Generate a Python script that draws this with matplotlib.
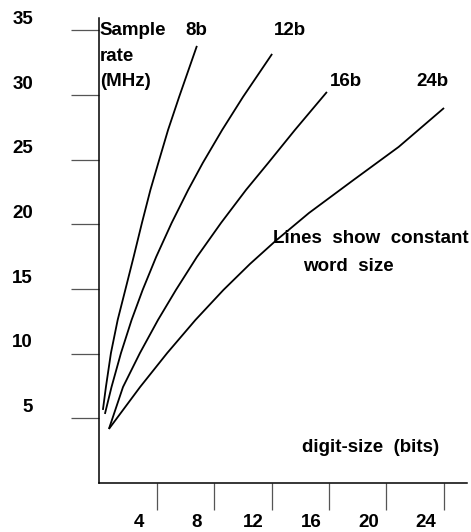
import matplotlib
matplotlib.use("Agg")
import matplotlib.pyplot as plt
from matplotlib.transforms import offset_copy

plt.rcParams['font.family'] = ['Liberation Sans', 'DejaVu Sans']
plt.rcParams['font.weight'] = 'bold'

# sample rate (MHz) against digit size (bits), one curve per word size
x_8b = [0.24, 0.45, 0.80, 1.27, 1.80, 2.38, 2.96, 3.55, 4.10, 4.78, 5.55, 6.79]
y_8b = [5.65, 7.42, 10.05, 12.61, 14.93, 17.48, 20.11, 22.66, 24.75, 27.30, 29.85, 33.80]

x_12b = [0.38, 0.84, 1.50, 2.24, 3.01, 3.95, 5.03, 6.18, 7.20, 8.55, 10.00, 12.03]
y_12b = [5.34, 7.42, 10.05, 12.61, 14.93, 17.48, 20.11, 22.66, 24.75, 27.30, 29.85, 33.18]

x_16b = [0.66, 1.64, 2.82, 4.08, 5.33, 6.79, 8.47, 10.21, 11.76, 13.62, 15.85]
y_16b = [4.18, 7.42, 10.05, 12.61, 14.93, 17.48, 20.11, 22.66, 24.75, 27.30, 30.24]

x_24b = [0.66, 2.83, 4.72, 6.69, 8.64, 10.49, 12.27, 14.60, 17.70, 20.85, 24.01]
y_24b = [4.18, 7.42, 10.05, 12.61, 14.93, 16.94, 18.72, 20.88, 23.43, 25.99, 29.00]

x_ticks = [4, 8, 12, 16, 20, 24]
y_ticks = [5, 10, 15, 20, 25, 30, 35]

fig = plt.figure(figsize=(4.71, 5.32), dpi=100)
ax = fig.add_axes([0, 0, 1, 1])
ax.set_xlim(-6.93, 25.89)
ax.set_ylim(-3.79, 37.35)

for xs, ys in [(x_8b, y_8b), (x_12b, y_12b), (x_16b, y_16b), (x_24b, y_24b)]:
    ax.plot(xs, ys, color='black', lw=1.3, solid_capstyle='butt',
            solid_joinstyle='round')

# axes drawn as two plain lines crossing at the origin
for side in ['top', 'right']:
    ax.spines[side].set_visible(False)
ax.spines['left'].set_position(('data', 0))
ax.spines['bottom'].set_position(('data', 0))
ax.spines['left'].set_bounds(0, 35.96)
ax.spines['bottom'].set_bounds(0, 25.6)
for side in ['left', 'bottom']:
    ax.spines[side].set_linewidth(1.1)
    ax.spines[side].set_color('black')

ax.set_xticks(x_ticks)
ax.set_yticks(y_ticks)
ax.tick_params(axis='y', direction='out', length=20, width=0.9, color='#555555',
               labelleft=False)
ax.tick_params(axis='x', direction='out', length=19.5, width=0.9, color='#555555',
               labelbottom=False)

fs = 13.5
# tick labels sit a little off their ticks
tr_x = offset_copy(ax.transData, fig=fig, x=-18, y=0, units='dots')
for v in x_ticks:
    ax.text(v, -3.02, str(v), transform=tr_x, ha='center', va='center', fontsize=fs)
tr_y = offset_copy(ax.transData, fig=fig, x=0, y=11, units='dots')
for v in y_ticks:
    ax.text(-4.63, v, str(v), transform=tr_y, ha='right', va='center', fontsize=fs)

for txt, yy in zip(['Sample', 'rate', '(MHz)'], [34.96, 32.95, 31.01]):
    ax.text(0.02, yy, txt, ha='left', va='center', fontsize=fs)

ax.text(6.72, 34.96, '8b', ha='center', va='center', fontsize=fs)
ax.text(13.28, 34.96, '12b', ha='center', va='center', fontsize=fs)
ax.text(17.18, 31.01, '16b', ha='center', va='center', fontsize=fs)
ax.text(23.2, 31.01, '24b', ha='center', va='center', fontsize=fs)

ax.text(12.09, 18.87, 'Lines  show  constant', ha='left', va='center', fontsize=fs)
ax.text(14.18, 16.71, 'word  size', ha='left', va='center', fontsize=fs)
ax.text(14.11, 2.71, 'digit-size  (bits)', ha='left', va='center', fontsize=fs)

fig.savefig('out.png', dpi=100)
